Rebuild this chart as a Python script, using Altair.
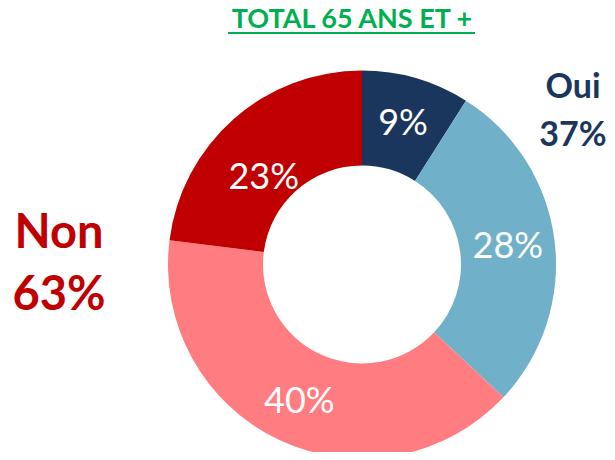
import altair as alt
import pandas as pd

categories = ["Oui A", "Oui B", "Non B", "Non A"]
values = [9, 28, 40, 23]
labels = ["9%", "28%", "40%", "23%"]
colors = ["#1B365D", "#70B0C8", "#FF7C80", "#C00000"]
order = [1, 2, 3, 4]
label_dy = [1, 1, 4, 24]
label_dx = [0, 0, 0, -1]

df = pd.DataFrame({"cat": categories, "value": values, "label": labels, "order": order})

CX, CY = 354, 256.5
FONT = "Lato"
TOTAL = sum(values)

arcs = alt.Chart(df).mark_arc(outerRadius=194, innerRadius=99, stroke=None).encode(
    theta=alt.Theta("value:Q", stack=True),
    order=alt.Order("order:Q"),
    color=alt.Color("cat:N", scale=alt.Scale(domain=categories, range=colors), legend=None),
    x=alt.value(CX), y=alt.value(CY),
)

stacked = alt.Chart(df).transform_window(
    cum="sum(value)", sort=[alt.SortField("order")]
).transform_calculate(mid="datum.cum - datum.value / 2")

text_layers = []
for i, lab in enumerate(labels):
    t = stacked.transform_filter(alt.datum.label == lab).mark_text(
        radius=147, fontSize=36, font=FONT, color="white", baseline="middle", align="center",
        dx=label_dx[i], dy=label_dy[i],
    ).encode(
        theta=alt.Theta("mid:Q", stack=None, scale=alt.Scale(domain=[0, TOTAL])),
        text="label:N", x=alt.value(CX), y=alt.value(CY),
    )
    text_layers.append(t)

side = pd.DataFrame({
    "t": ["Non", "63%", "Oui", "37%"],
    "x": [51, 51, 565, 565],
    "y": [226, 288, 80, 128],
    "c": ["#C00000", "#C00000", "#1B365D", "#1B365D"],
    "s": [47, 47, 34, 34],
})

side_text = alt.Chart(side).mark_text(font=FONT, fontWeight="bold", align="center", baseline="middle").encode(
    text="t:N",
    x=alt.X("x:Q", scale=None),
    y=alt.Y("y:Q", scale=None),
    color=alt.Color("c:N", scale=None),
    size=alt.Size("s:Q", scale=None),
)

title = alt.Chart(pd.DataFrame({"t": ["TOTAL 65 ANS ET +"]})).mark_text(
    font=FONT, fontWeight="bold", fontSize=27, color="#00B050", align="center", baseline="alphabetic"
).encode(text="t:N", x=alt.value(344), y=alt.value(20))

underline = alt.Chart(pd.DataFrame({"a": [0]})).mark_rule(color="#00B050", strokeWidth=2).encode(
    x=alt.value(220), x2=alt.value(467), y=alt.value(25)
)

chart = alt.layer(arcs, *text_layers, side_text, title, underline).resolve_scale(theta="independent").properties(
    width=599, height=444, padding=0,
    autosize=alt.AutoSizeParams(type="none"),
).configure_view(stroke=None)

chart.save("out.html", embed_options={"renderer": "svg", "actions": False})
